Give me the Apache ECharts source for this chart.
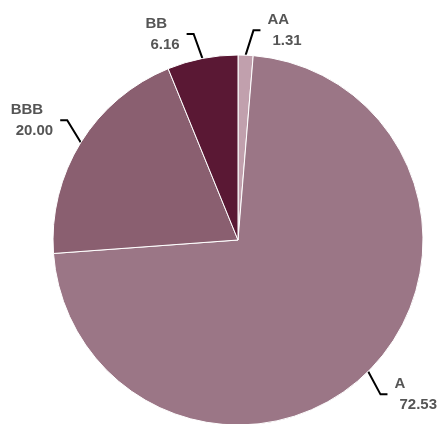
<!DOCTYPE html>
<html>
<head>
<meta charset="utf-8">
<script src="https://cdn.jsdelivr.net/npm/echarts@6/dist/echarts.min.js"></script>
<style>html,body{margin:0;padding:0;background:#fff}#c{width:437px;height:424px}</style>
</head>
<body>
<div id="c"></div>
<script>
const categories = ['AA', 'A', 'BBB', 'BB'];
const values = [1.31, 72.53, 20.00, 6.16];
const colors = ['#c1a0ad', '#9b7686', '#8a5f70', '#5a1834'];

const chart = echarts.init(document.getElementById('c'));
chart.setOption({
  animation: false,
  series: [{
    type: 'pie',
    center: [238, 240],
    radius: 185,
    startAngle: 90,
    clockwise: true,
    avoidLabelOverlap: false,
    itemStyle: { borderColor: '#fff', borderWidth: 1 },
    label: {
      show: true,
      position: 'outside',
      formatter: p => '{n|' + p.name + '}\n{v|' + p.value.toFixed(2) + '}',
      distanceToLabelLine: 7,
      rich: {
        n: { fontFamily: 'Liberation Sans', fontWeight: 'bold', fontSize: 15, color: '#555', align: 'left', lineHeight: 21 },
        v: { fontFamily: 'Liberation Sans', fontWeight: 'bold', fontSize: 15, color: '#555', align: 'left', lineHeight: 21, padding: [0, 0, 0, 5] }
      }
    },
    labelLine: {
      show: true,
      length: 26,
      length2: 8,
      smooth: false,
      lineStyle: { color: '#000', width: 2 }
    },
    labelLayout: function (params) {
      const pts = params.labelLinePoints;
      if (!pts || pts.length < 3) return {};
      const p0 = pts[0];
      const dx = pts[1][0] - p0[0];
      const dy = pts[1][1] - p0[1];
      const sx = (pts[2][0] - pts[1][0]) >= 0 ? 1 : -1;
      const sy = dy >= 0 ? 1 : -1;
      const radial = Math.atan2(Math.abs(dx), Math.abs(dy)) * 180 / Math.PI;
      const theta = (22 + 0.25 * (radial - 20)) * Math.PI / 180;
      const L = 26;
      const p1 = [p0[0] + sx * L * Math.sin(theta), p0[1] + sy * L * Math.cos(theta)];
      const p2 = [p1[0] + sx * 7, p1[1]];
      return {
        x: p2[0] + sx * 7,
        y: p2[1],
        align: sx > 0 ? 'left' : 'right',
        verticalAlign: 'middle',
        labelLinePoints: [p0, p1, p2]
      };
    },
    emphasis: { disabled: true },
    data: categories.map((c, i) => ({ name: c, value: values[i], itemStyle: { color: colors[i] } }))
  }]
});
</script>
</body>
</html>
